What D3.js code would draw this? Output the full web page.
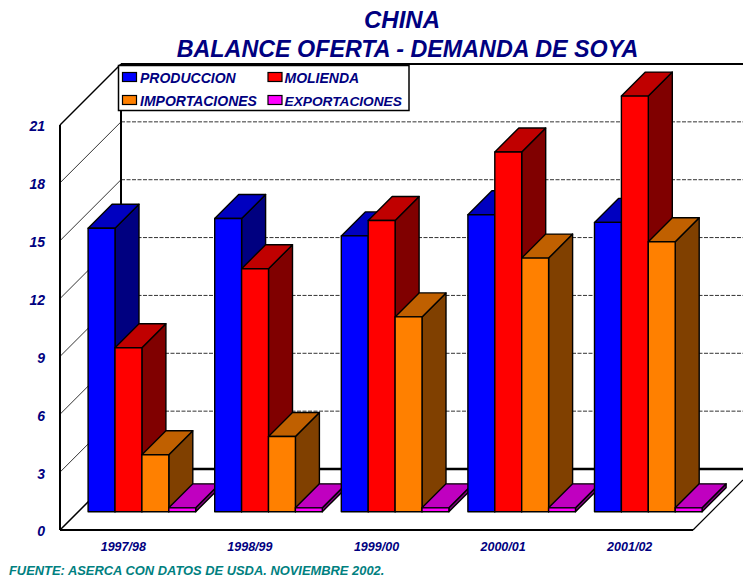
<!DOCTYPE html>
<html><head><meta charset="utf-8">
<script src="https://cdn.jsdelivr.net/npm/d3@7"></script>
<style>
html,body{margin:0;padding:0;background:#fff;overflow:hidden}
text{font-family:"Liberation Sans",Arial,sans-serif;font-weight:bold;font-style:italic}
</style></head><body>
<svg id="c" width="743" height="578"></svg>
<script>
const categories = ["1997/98","1998/99","1999/00","2000/01","2001/02"];
const seriesNames = ["PRODUCCION","MOLIENDA","IMPORTACIONES","EXPORTACIONES"];
const produccion = [14.7,15.2,14.3,15.4,15.0];
const molienda = [8.5,12.6,15.1,18.65,21.55];
const importaciones = [2.95,3.9,10.1,13.15,14.0];
const exportaciones = [0.2,0.2,0.2,0.2,0.2];
const yTicks = [0,3,6,9,12,15,18,21];
const titleLines = ["CHINA","BALANCE OFERTA - DEMANDA DE SOYA"];
const footer = "FUENTE: ASERCA CON DATOS DE USDA. NOVIEMBRE 2002.";
const seriesValues = [produccion,molienda,importaciones,exportaciones];
const faces = [
 {front:"#0000ff",top:"#0000c0",side:"#000080"},
 {front:"#ff0000",top:"#c00000",side:"#800000"},
 {front:"#ff8000",top:"#c06000",side:"#804000"},
 {front:"#ff00ff",top:"#c000c0",side:"#800080"}];

const svg = d3.select("#c");
const navy = "#000080";
const x = d3.scaleBand().domain(categories).range([60,693]).padding(0);
const y = d3.scaleLinear().domain([0,21]).range([530,125]);
const wallD = 61, barD = 24, barOff = 18.3, barW = 26.9;
const xs = d3.scaleBand().domain(d3.range(4)).range([0,barW*4]);
const line = (a,b,c,d,col="#000",w=2,dash=null)=>svg.append("line")
  .attr("x1",a).attr("y1",b).attr("x2",c).attr("y2",d)
  .attr("stroke",col).attr("stroke-width",w).attr("stroke-dasharray",dash);

// gridlines on the back wall and side wall
yTicks.slice(1,-1).forEach(t=>{
  line(x.range()[0],y(t),x.range()[0]+wallD,y(t)-wallD,"#333",1);
  line(x.range()[0]+wallD,y(t)-wallD,743,y(t)-wallD,"#333",1,"4,1.5");
});
// top rim of the back wall
line(x.range()[0]+wallD,y(21)-wallD,743,y(21)-wallD);
// walls and floor
line(x.range()[0],y(21),x.range()[0],y(0));
line(x.range()[0]+wallD,y(21)-wallD,x.range()[0]+wallD,y(0)-wallD);
line(x.range()[0],y(21),x.range()[0]+wallD,y(21)-wallD,"#000",1.5);
line(x.range()[0],y(0),x.range()[1],y(0));
line(x.range()[0],y(0),x.range()[0]+wallD,y(0)-wallD,"#000",1.5);
line(x.range()[0]+wallD,y(0)-wallD,743,y(0)-wallD,"#000",2.5);
line(x.range()[1],y(0),743,y(0)-(743-x.range()[1]),"#000",1.2);

// bars
categories.forEach((cat,i)=>{
  const g = svg.append("g");
  const gx = x(cat)+(x.bandwidth()-barW*4)/2+barOff+0.3;
  seriesValues.forEach((vals,s)=>{
    const l = gx+xs(s), r = l+xs.bandwidth();
    const b = y(0)-barOff, t = y(vals[i])-barOff;
    const poly = (pts,fill)=>g.append("polygon")
      .attr("points",pts.map(p=>p.join(",")).join(" "))
      .attr("fill",fill).attr("stroke","#000").attr("stroke-width",1.4)
      .attr("stroke-linejoin","round");
    poly([[r,t],[r+barD,t-barD],[r+barD,b-barD],[r,b]],faces[s].side);
    poly([[l,t],[l+barD,t-barD],[r+barD,t-barD],[r,t]],faces[s].top);
    poly([[l,t],[r,t],[r,b],[l,b]],faces[s].front);
  });
});

// axes (labels only)
const fontFam = '"Liberation Sans",Arial,sans-serif';
const yAxis = d3.axisLeft(y).tickValues(yTicks).tickSize(0).tickPadding(15);
svg.append("g").attr("transform",`translate(60,1.5)`).call(yAxis)
  .call(g=>g.select(".domain").remove())
  .selectAll("text").attr("fill",navy).style("font-size","14px")
  .style("font-family",fontFam).style("font-weight","bold").style("font-style","italic");
const xAxis = d3.axisBottom(x).tickSize(0).tickPadding(12);
svg.append("g").attr("transform",`translate(0,${y(0)})`).call(xAxis)
  .call(g=>g.select(".domain").remove())
  .selectAll("text").attr("fill",navy).style("font-size","12.5px")
  .style("font-family",fontFam).style("font-weight","bold").style("font-style","italic");

// legend
const legX=[122,267.5], legY=[72,95];
svg.append("rect").attr("x",118.5).attr("y",65.5).attr("width",290.5).attr("height",45)
  .attr("fill","#fff").attr("stroke","#000").attr("stroke-width",1.5);
seriesNames.forEach((n,i)=>{
  const lx=legX[i%2], ly=legY[i>>1];
  svg.append("rect").attr("x",lx+0.5).attr("y",ly+0.5).attr("width",14).attr("height",9)
    .attr("fill",faces[i].front).attr("stroke","#000").attr("stroke-width",1.2);
  svg.append("text").attr("x",lx+18-(i%2?1:0)).attr("y",ly+11).attr("fill",navy)
    .style("font-size","14px").style("font-size",i==3?"13.7px":"14px").text(n);
});

// title and footer
svg.selectAll(".t").data(titleLines).enter().append("text")
  .attr("x",(d,i)=>i?407.5:402).attr("y",(d,i)=>i?57:28).attr("text-anchor","middle")
  .attr("fill",navy).style("font-size",(d,i)=>i?"23.3px":"24px").text(d=>d);
svg.append("text").attr("x",9).attr("y",575).attr("fill","#008080")
  .style("font-size","12.9px").text(footer);
</script>
</body></html>
